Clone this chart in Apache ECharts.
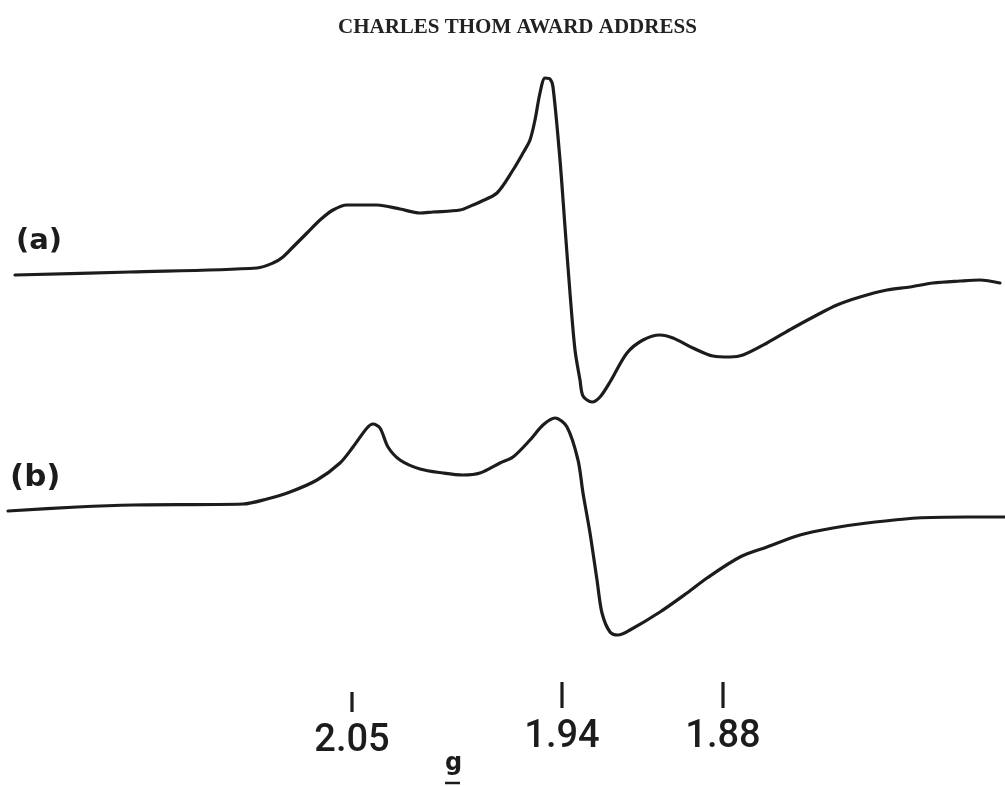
<!DOCTYPE html>
<html>
<head>
<meta charset="utf-8">
<script src="https://cdn.jsdelivr.net/npm/echarts@6/dist/echarts.min.js"></script>
<style>html,body{margin:0;padding:0;background:#fff}#c{width:1005px;height:786px}</style>
</head>
<body>
<div id="c"></div>
<script>
// Field position (arbitrary chart units, left to right) and recorder deflection (arbitrary units, up)
var fieldA = [15,130,257,273,283,293,307,320,333,347,377,400,420,433,460,473,480,497,513,523,530,535,540,545,550,553,560,565,570,575,580,583,592,600,610,627,643,660,673,693,713,730,743,767,793,817,837,860,887,910,933,960,980,1000];
var signalA = [511,514,518,523,529,539,553,566,576,581,581,577,573,574,576,581,584,593,616,633,646,666,693,708,707,699,626,559,493,436,406,390,384,389,404,433,446,451,448,438,430,429,431,443,458,471,481,489,496,499,503,505,506,503];
var fieldB = [8,77,133,243,267,290,317,340,353,367,373,380,388,400,420,443,463,480,500,513,530,543,555,567,578,583,590,597,602,610,618,630,660,687,707,740,767,800,833,867,917,967,1005];
var signalB = [275,279,281,282,287,294,306,323,339,358,362,358,339,326,317,313,311,313,323,329,346,361,368,359,326,293,253,206,173,154,151,156,174,193,208,229,239,251,258,263,268,269,269];
// g-value markers
var tickField = [352,562,723];
var tickLevel = [84,91,91];
var tickLabels = ['2.05','1.94','1.88'];
var curveNames = ['(a)','(b)'];

function pairs(xs, ys){ return xs.map(function(x,i){ return [x, ys[i]]; }); }

var chart = echarts.init(document.getElementById('c'), null, {renderer:'canvas'});
var lineStyle = {color:'#1c1c1c', width:3.2, cap:'round', join:'round'};
chart.setOption({
  animation:false,
  backgroundColor:'#fff',
  title:{
    text:'CHARLES THOM AWARD ADDRESS', left:333, top:12,
    textStyle:{fontFamily:'Liberation Serif', fontSize:21, fontWeight:'bold', color:'#222'}
  },
  grid:{left:0,right:0,top:0,bottom:0},
  xAxis:{type:'value', min:0, max:1005, show:false},
  yAxis:{type:'value', min:0, max:786, show:false},
  series:[
    {type:'line', name:curveNames[0], data:pairs(fieldA, signalA), showSymbol:false, smooth:0.3, lineStyle:lineStyle},
    {type:'line', name:curveNames[1], data:pairs(fieldB, signalB), showSymbol:false, smooth:0.3, lineStyle:lineStyle},
    {type:'scatter', data:pairs(tickField, tickLevel), symbol:'rect',
     symbolSize:function(v, p){ return [3.2, p.dataIndex === 0 ? 20 : 26]; },
     itemStyle:{color:'#1c1c1c', opacity:1},
     label:{show:true, position:'bottom', distance:10, opacity:1,
       formatter:function(p){ return tickLabels[p.dataIndex]; },
       fontFamily:'Roboto', fontWeight:500, fontSize:38, color:'#1c1c1c'}}
  ],
  graphic:[
    {type:'text', left:16, top:227, style:{text:curveNames[0], font:'bold 29px "DejaVu Sans"', fill:'#1c1c1c'}},
    {type:'text', left:10, top:462, style:{text:curveNames[1], font:'bold 31px "DejaVu Sans"', fill:'#1c1c1c'}},
    {type:'text', left:445, top:752, style:{text:'g', font:'bold 24px "DejaVu Sans"', fill:'#1c1c1c'}},
    {type:'line', shape:{x1:445, y1:783, x2:460, y2:783}, style:{stroke:'#1c1c1c', lineWidth:2.5}}
  ]
});
</script>
</body>
</html>
